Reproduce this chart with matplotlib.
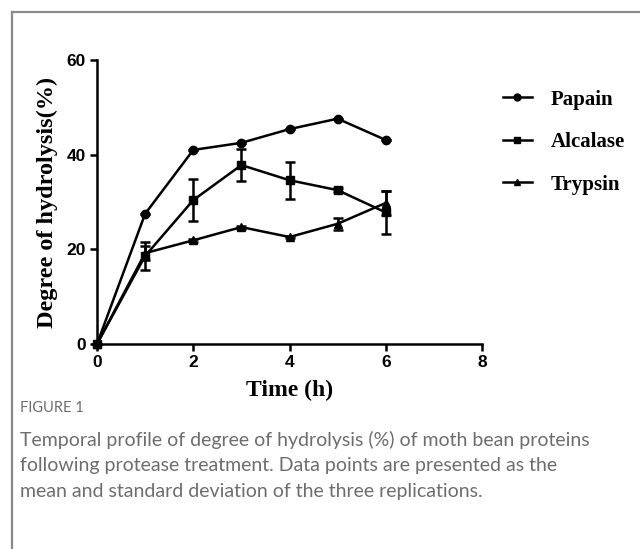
import matplotlib
matplotlib.use("Agg")
import matplotlib.pyplot as plt
from matplotlib.lines import Line2D

time_h = [0, 1, 2, 3, 4, 5, 6]
papain = [0, 27.5, 41.0, 42.5, 45.4, 47.6, 43.1]
papain_err = [0, 0, 0, 0, 0, 0, 0]
alcalase = [0, 18.6, 30.4, 37.8, 34.6, 32.5, 27.8]
alcalase_err = [0, 3.0, 4.4, 3.3, 3.9, 0.4, 4.6]
trypsin = [0, 19.2, 21.9, 24.7, 22.6, 25.4, 29.8]
trypsin_err = [0, 1.5, 0.3, 0.3, 0.3, 1.3, 2.5]

series = [("Papain", papain, papain_err, "o", 6),
          ("Alcalase", alcalase, alcalase_err, "s", 6),
          ("Trypsin", trypsin, trypsin_err, "^", 6)]

W, H = 640, 549
fig = plt.figure(figsize=(W / 100, H / 100), dpi=100)

# outer frame (left and top gray border)
fig.add_artist(Line2D([12 / W, 12 / W], [0, 1 - 12 / H], transform=fig.transFigure,
                      color="#8a8a8a", lw=1.6))
fig.add_artist(Line2D([12 / W, 1], [1 - 12 / H, 1 - 12 / H], transform=fig.transFigure,
                      color="#8a8a8a", lw=1.6))

ax = fig.add_axes([97 / W, 1 - 344 / H, (482 - 97) / W, (344 - 60) / H])

handles = []
for name, vals, errs, mk, ms in series:
    ax.errorbar(time_h, vals, yerr=errs, color="black", lw=1.8, marker=mk, ms=ms,
                capsize=3.5, elinewidth=1.8, capthick=1.8, clip_on=False, zorder=3)
    handles.append(Line2D([0], [0], color="black", lw=1.8, marker=mk, ms=5))

ax.set_xlim(0, 8)
ax.set_ylim(0, 60)
ax.set_xticks([0, 2, 4, 6, 8])
ax.set_yticks([0, 20, 40, 60])
for s in ["top", "right"]:
    ax.spines[s].set_visible(False)
for s in ["left", "bottom"]:
    ax.spines[s].set_linewidth(1.8)
ax.tick_params(direction="out", length=5, width=1.8, pad=3)
for lab in ax.get_xticklabels() + ax.get_yticklabels():
    lab.set_fontfamily("Liberation Sans")
    lab.set_fontweight("bold")
    lab.set_fontsize(12.5)

ax.set_xlabel("Time (h)", fontfamily="Liberation Serif", fontweight="bold",
              fontsize=17, labelpad=7)
ax.set_ylabel("Degree of hydrolysis(%)", fontfamily="Liberation Serif",
              fontweight="bold", fontsize=17.5, labelpad=6)

fig.legend(handles, [s[0] for s in series], loc="upper left",
           bbox_to_anchor=(484 / W, 1 - 71 / H), frameon=False,
           prop={"family": "Liberation Serif", "weight": "bold", "size": 15},
           handlelength=1.4, handletextpad=0.9, labelspacing=1.08)

fig.text(20 / W, 1 - 408 / H, "FIGURE 1", fontfamily="Lato", fontsize=10.5,
         color="#6d6d6d", va="center", ha="left")
caption = ("Temporal profile of degree of hydrolysis (%) of moth bean proteins\n"
           "following protease treatment. Data points are presented as the\n"
           "mean and standard deviation of the three replications.")
fig.text(20 / W, 1 - 431 / H, caption, fontfamily="Lato", fontsize=14,
         color="#6d6d6d", va="top", ha="left", linespacing=1.6)

fig.savefig("out.png", dpi=100)
